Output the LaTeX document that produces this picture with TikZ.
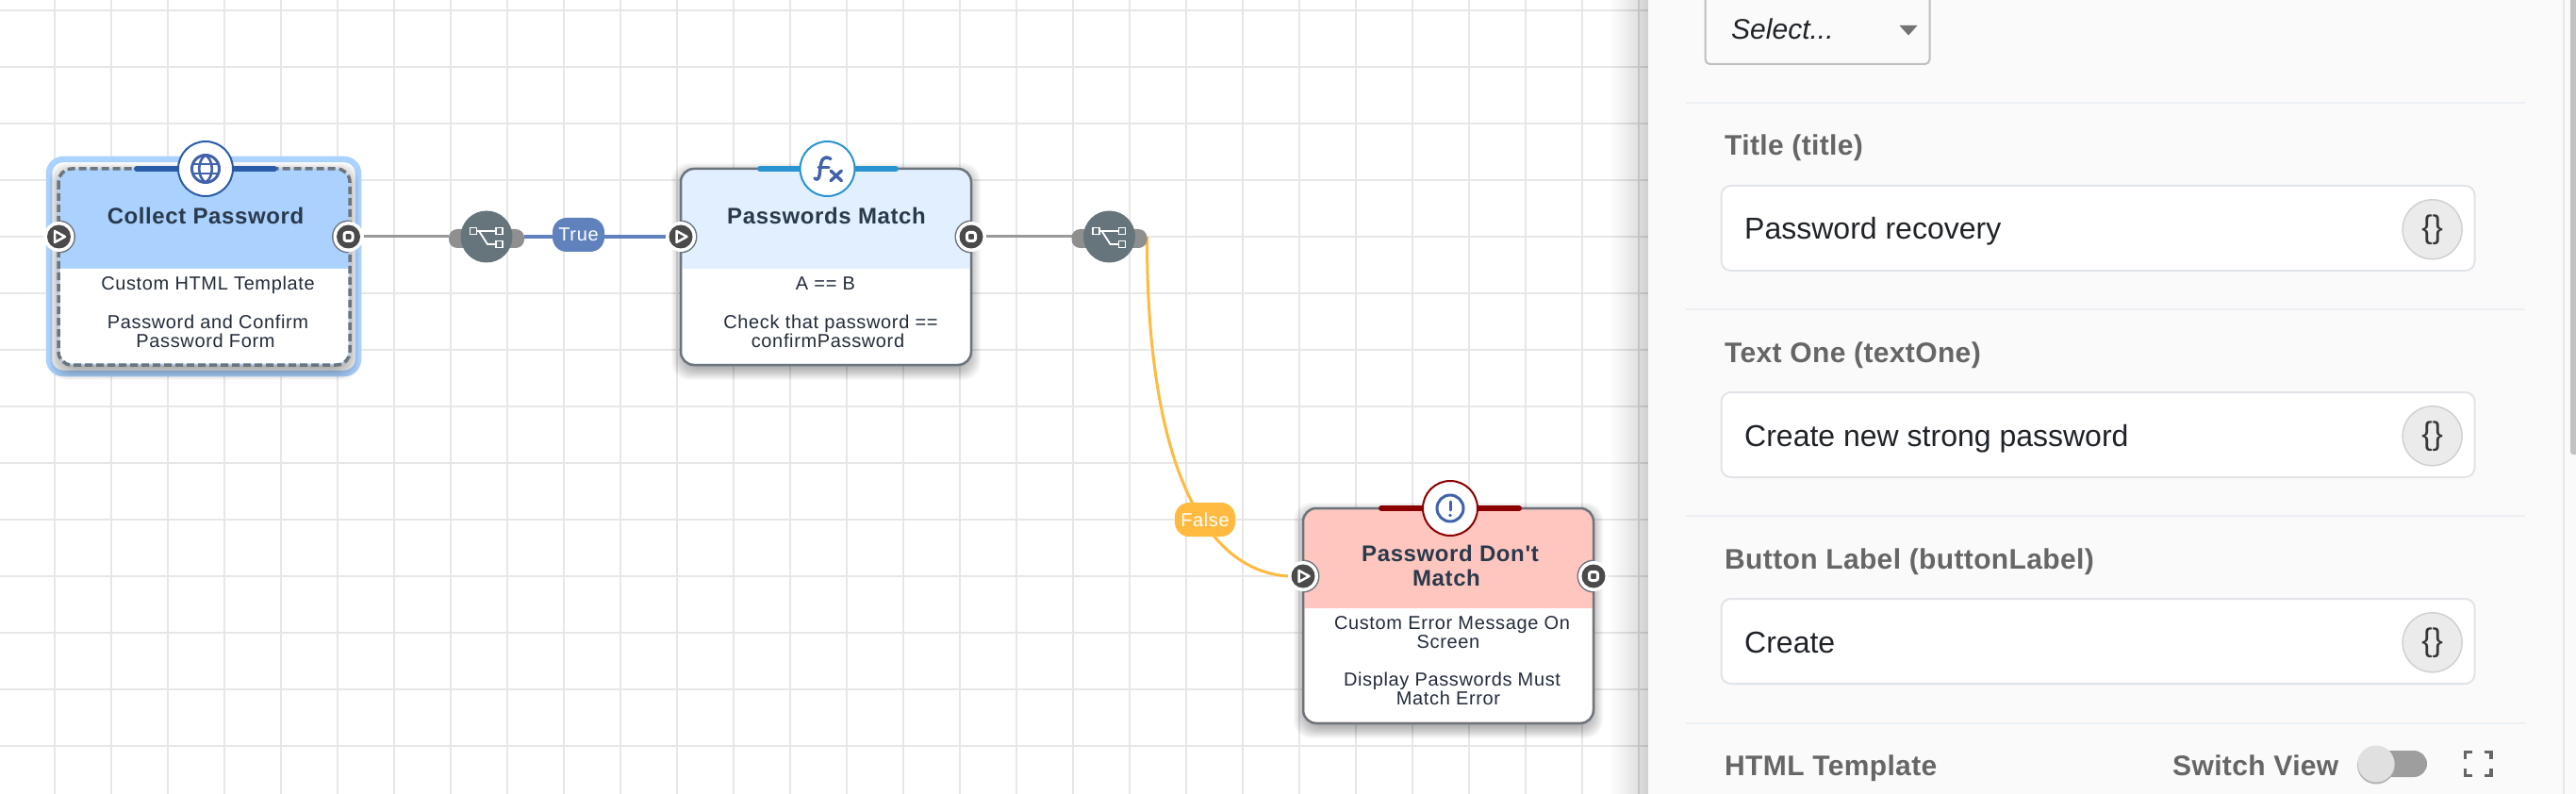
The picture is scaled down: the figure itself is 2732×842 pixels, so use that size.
\documentclass[tikz,border=0pt]{standalone}
\usepackage{fontspec}
\setmainfont{Liberation Sans}
\newfontfamily\spaced[LetterSpace=2.5]{Liberation Sans}
\newfontfamily\bodyfam[LetterSpace=3.2]{Liberation Sans}
\newfontfamily\labelfam[LetterSpace=1.2]{Liberation Sans}
\definecolor{gridc}{HTML}{E7E7E7}
\definecolor{hi1}{HTML}{ABD2FF}
\definecolor{head2}{HTML}{E1EFFF}
\definecolor{head3}{HTML}{FFC6BF}
\definecolor{edgec}{HTML}{6C757D}
\definecolor{bar1}{HTML}{2B5CA8}
\definecolor{bar2}{HTML}{2A94D0}
\definecolor{bar3}{HTML}{8B0000}
\definecolor{iconc}{HTML}{4263AB}
\definecolor{portc}{HTML}{4A4A4A}
\definecolor{stubc}{HTML}{8F8F8F}
\definecolor{branchc}{HTML}{66747C}
\definecolor{linkg}{HTML}{999999}
\definecolor{trueC}{HTML}{5F82BD}
\definecolor{falseC}{HTML}{FFBA3F}
\definecolor{titlec}{HTML}{2A3A4C}
\definecolor{bodyc}{HTML}{222C3A}
\definecolor{panelc}{HTML}{FAFAFA}
\definecolor{divc}{HTML}{ECEFF3}
\definecolor{inputc}{HTML}{E1E4E8}
\definecolor{labelc}{HTML}{666666}
\definecolor{inktext}{HTML}{1F2328}
\pgfdeclarelayer{gridl}
\pgfdeclarelayer{lnk}
\pgfsetlayers{gridl,lnk,main}
\tikzset{
  flowbody/.style={rectangle,rounded corners=14pt,inner sep=0pt,outer sep=0pt},
  titletxt/.style={font=\fontsize{24}{24}\selectfont\spaced\bfseries,text=titlec,inner sep=0pt,align=center},
  bodytxt/.style={font=\fontsize{20}{20}\selectfont\bodyfam,text=bodyc,inner sep=0pt,align=center},
  pilltxt/.style={rectangle,rounded corners=15pt,inner sep=0pt,minimum height=36pt,text=white,font=\fontsize{20}{20}\selectfont\bodyfam},
  iconring/.style={circle,fill=white,line width=2pt,minimum size=58pt,inner sep=0pt,outer sep=0pt},
  portring/.style={circle,fill=white,minimum size=32pt,inner sep=0pt,outer sep=0pt},
  icon/.style={iconc,line width=3pt,line cap=round,line join=round},
  glinkstyle/.style={linkg,line width=3pt},
  panellabel/.style={font=\fontsize{30}{30}\selectfont\labelfam\bfseries,text=labelc,inner sep=0pt,anchor=base west},
  paneltext/.style={font=\fontsize{32}{32}\selectfont,text=inktext,inner sep=0pt,anchor=base west},
  fieldbox/.style={rectangle,rounded corners=10pt,fill=white,draw=inputc,line width=2pt,inner sep=0pt,outer sep=0pt,minimum width=799pt,minimum height=90pt},
  bracebtn/.style={circle,fill=black!8,draw=black!18,line width=1.5pt,minimum size=63pt,inner sep=0pt,font=\fontsize{34}{34}\selectfont,text=black!78},
  divline/.style={divc,line width=2pt}
}
% name, x1, y1, x2, y2, ymid, header colour, border options
\newcommand\flowbox[8]{%
  \foreach \k in {0,...,13}{%
    \fill[black,opacity=.024,rounded corners=18pt]
      ({#2-10+\k},{#3-6+\k}) rectangle ({#4+10-\k},{#5+16-\k});
  }%
  \node[flowbody,fill=#7,minimum width={(#4-#2)*1pt},minimum height={(#5-#3)*1pt}] (#1) at ({(#2+#4)/2},{(#3+#5)/2}) {};
  \fill[#7,rounded corners=14pt] (#2,#3) rectangle (#4,#6+15);
  \fill[white] (#2+1.5,#6) -- (#4-1.5,#6) [rounded corners=12pt] -- (#4-1.5,#5-1.5) -- (#2+1.5,#5-1.5) [sharp corners] -- cycle;
  \draw[#8,rounded corners=14pt] (#2,#3) rectangle (#4,#5);
}
% name, x, y
\newcommand\portin[3]{%
  \begin{scope}\clip (#2,#3-20) rectangle (#2+20,#3+20);
    \fill[edgec] (#2,#3) circle (17.5pt);
  \end{scope}
  \node[portring] (#1) at (#2,#3) {};
  \fill[portc] (#2,#3) circle (12.5pt);
  \draw[white,fill=portc,line width=2.5pt,line join=round] (#2-4.5,#3-6) -- (#2+6.5,#3) -- (#2-4.5,#3+6) -- cycle;
}
\newcommand\portout[3]{%
  \begin{scope}\clip (#2-20,#3-20) rectangle (#2,#3+20);
    \fill[edgec] (#2,#3) circle (17.5pt);
  \end{scope}
  \node[portring] (#1) at (#2,#3) {};
  \fill[portc] (#2,#3) circle (12.5pt);
  \draw[white,fill=portc,line width=3pt,rounded corners=2.5pt] (#2-4.5,#3-4.5) rectangle (#2+4.5,#3+4.5);
}
% name, x, y
\newcommand\branchnode[3]{%
  \node[rectangle,rounded corners=9pt,fill=stubc,minimum width=80pt,minimum height=20pt,inner sep=0pt,outer sep=0pt] (#1-stub) at (#2,#3+2) {};
  \node[circle,fill=branchc,minimum size=55pt,inner sep=0pt,outer sep=0pt] (#1) at (#2,#3) {};
  \draw[white,line width=1.8pt] (#2-14,#3-6) -- (#2+13,#3-6)
     (#2-8,#3-6) -- (#2+1,#3+8) -- (#2+10,#3+8);
  \draw[white,fill=branchc,line width=1.8pt]
     (#2-17.5,#3-9.5) rectangle (#2-10.5,#3-2.5)
     (#2+10,#3-9.5) rectangle (#2+17,#3-2.5)
     (#2+10,#3+4.5) rectangle (#2+17,#3+11.5);
}
\begin{document}
\begin{tikzpicture}[x=1pt,y=-1pt]
\useasboundingbox (0,0) rectangle (2732,842);
\begin{pgfonlayer}{gridl}
  \fill[white] (0,0) rectangle (2732,842);
  \foreach \k in {0,...,28}{\fill[gridc] ({57+60*\k},0) rectangle ({59+60*\k},842);}
  \foreach \k in {0,...,13}{\fill[gridc] (0,{10+60*\k}) rectangle (1748,{12+60*\k});}
\end{pgfonlayer}

% ---- Collect Password
\draw[hi1,fill=white,line width=6.5pt,rounded corners=15pt] (52,169) rectangle (380,396);
\flowbox{collect}{62}{179}{371}{387}{285}{hi1}{edgec,line width=3.5pt,dash pattern=on 8pt off 4pt}
\draw[bar1,line width=6pt,line cap=round] (145,179) -- (291,179);
\node[iconring,draw=bar1] (collecticon) at (218,179) {};
\draw[icon] (218,179) circle (14.5pt);
\draw[icon,line width=2.6pt] (218,164.5) .. controls (209,170) and (209,188) .. (218,193.5)
   .. controls (227,188) and (227,170) .. (218,164.5);
\draw[icon,line width=2.6pt] (205,174) -- (231,174) (205,184) -- (231,184);
\node[titletxt,anchor=base] (collecttitle) at (218,238) {Collect Password};
\node[bodytxt,anchor=north] (collectbody) at (218,293) {\strut\hspace*{5pt}Custom HTML Template\\[19.5pt]\hspace*{5pt}Password and Confirm\\Password Form};
\portin{collectin}{62.5}{251}
\portout{collectout}{369.5}{251}

% ---- Passwords Match
\flowbox{match}{722}{179}{1030}{387}{285}{head2}{edgec,line width=2.5pt}
\draw[bar2,line width=6pt,line cap=round] (806,179) -- (950,179);
\node[iconring,draw=bar2] (matchicon) at (877.5,179) {};
\draw[icon,line width=3.4pt] (881,168.5) .. controls (873,164) and (871,170) .. (870,178) .. controls (869,186) and (869,193) .. (864,189);
\draw[icon,line width=3pt] (868,177.7) -- (879,177.7);
\draw[icon,line width=3.4pt] (881,181) -- (892.5,191.7) (892.5,181) -- (881,191.7);
\node[titletxt,anchor=base] (matchtitle) at (876.5,238) {Passwords Match};
\node[bodytxt,anchor=north] (matchbody) at (878,293) {\strut A == B\hspace*{5pt}\\[19.5pt]\hspace*{6pt}Check that password ==\\confirmPassword};
\portin{matchin}{722}{251}
\portout{matchout}{1030}{251}

% ---- Password Don't Match
\flowbox{nomatch}{1382}{539}{1690}{767}{645}{head3}{edgec,line width=2.5pt}
\draw[bar3,line width=6pt,line cap=round] (1465,539) -- (1611,539);
\node[iconring,draw=bar3] (nomatchicon) at (1538,539) {};
\draw[icon] (1538,539) circle (14pt);
\draw[icon] (1538,532) -- (1538,541);
\fill[iconc] (1538,546.5) circle (1.9pt);
\node[titletxt,anchor=north] (nomatchtitle) at (1534,578) {\strut\hspace*{8pt}Password Don't\\Match};
\node[bodytxt,anchor=north] (nomatchbody) at (1536,653) {\strut\hspace*{8pt}Custom Error Message On\\Screen\\[20pt]\hspace*{8pt}Display Passwords Must\\Match Error};
\portin{nomatchin}{1382}{611}
\portout{nomatchout}{1690}{611}

% ---- branches and labels
\branchnode{branchone}{516}{251}
\branchnode{branchtwo}{1176.5}{251}
\node[pilltxt,fill=trueC,minimum width=55pt,text depth=0pt] (truelabel) at (613.5,249) {True};
\node[pilltxt,fill=falseC,minimum width=64pt,text depth=0pt] (falselabel) at (1278,551) {False};

\begin{pgfonlayer}{lnk}
  \draw[glinkstyle] (collectout.east) -- (branchone-stub.west |- collectout.east);
  \draw[trueC,line width=3.5pt] (branchone-stub.east |- matchin.west) -- (matchin.west);
  \draw[glinkstyle] (matchout.east) -- (branchtwo-stub.west |- matchout.east);
  \draw[falseC,line width=3pt] (branchtwo-stub.east |- matchout.east) .. controls (1216,480) and (1272,605) .. (nomatchin.west);
\end{pgfonlayer}

% ---- side panel
\foreach \k in {0,...,39}{\fill[black,opacity=.0055] ({1708+\k},0) rectangle (1748,842);}
\fill[black,opacity=.02] (1737,0) rectangle (1748,842);
\fill[panelc] (1748,0) rectangle (2732,842);
\fill[gridc] (2718,0) rectangle (2720,842);
\fill[black!24,rounded corners=3pt] (2726,-6) rectangle (2738,482);

\node[rectangle,rounded corners=5pt,draw=black!25,line width=2pt,fill=panelc,minimum width=238pt,minimum height=88pt,inner sep=0pt] (selectbox) at (1927.5,24) {};
\node[font=\fontsize{30}{30}\selectfont\itshape,text=inktext,inner sep=0pt,anchor=base west] (selecttext) at (1836,42) {Select...};
\fill[black!55] (2014.5,27) -- (2033.5,27) -- (2024,37.5) -- cycle;

\draw[divline] (1788,109.5) -- (2678,109.5) (1788,328) -- (2678,328) (1788,547) -- (2678,547) (1788,766.5) -- (2678,766.5);

\node[panellabel] (titlelab) at (1829,165) {Title (title)};
\node[fieldbox] (titlefield) at (2225,242) {};
\node[paneltext] (titleval) at (1850,254) {Password recovery};
\node[bracebtn] (titlebtn) at (2579.6,243.3) {\{\}};

\node[panellabel] (textlab) at (1829,384) {Text One (textOne)};
\node[fieldbox] (textfield) at (2225,461) {};
\node[paneltext] (textval) at (1850,473) {Create new strong password};
\node[bracebtn] (textbtn) at (2579.6,462.3) {\{\}};

\node[panellabel] (btnlab) at (1829,603) {Button Label (buttonLabel)};
\node[fieldbox] (btnfield) at (2225,680) {};
\node[paneltext] (btnval) at (1850,692) {Create};
\node[bracebtn] (btnbtn) at (2579.6,681.3) {\{\}};

\node[panellabel] (htmllab) at (1829,822) {HTML Template};
\node[panellabel] (switchlab) at (2304,822) {Switch View};
\fill[black!38,rounded corners=14pt] (2506,796) rectangle (2574,824);
\fill[black!30] (2520,811.5) circle (20pt);
\fill[black!12] (2520,810) circle (19.5pt);
\draw[labelc,line width=3.5pt]
  (2614.5,805) -- (2614.5,797.5) -- (2622,797.5)
  (2634.5,797.5) -- (2642,797.5) -- (2642,805)
  (2642,815) -- (2642,822.5) -- (2634.5,822.5)
  (2622,822.5) -- (2614.5,822.5) -- (2614.5,815);
\end{tikzpicture}
\end{document}
